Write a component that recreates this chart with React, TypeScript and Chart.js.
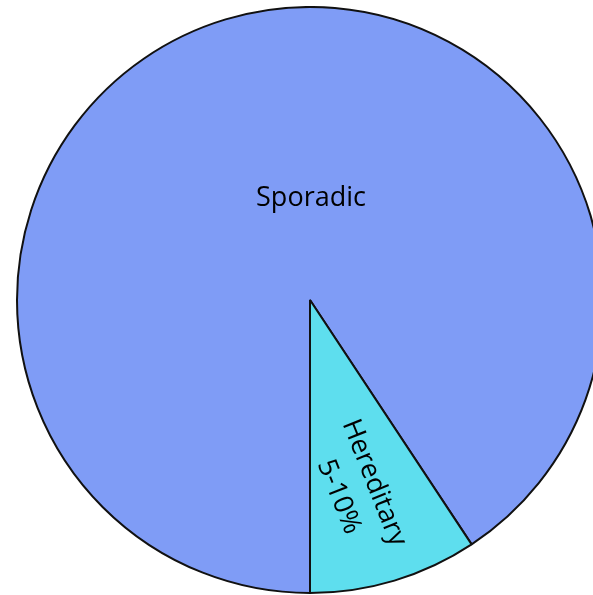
import React, { useEffect, useRef } from "react";
import { Chart, registerables } from "chart.js";

Chart.register(...registerables);

const categories = ["Sporadic", "Hereditary"];
const values = [90.7, 9.3];
const labelLines = [["Sporadic"], ["Hereditary", "5-10%"]];
const colors = ["#7f9cf6", "#5edeee"];

const labelPlugin = {
  id: "sliceLabels",
  afterDatasetsDraw(chart: any) {
    const ctx = chart.ctx;
    const meta = chart.getDatasetMeta(0);
    ctx.save();
    ctx.fillStyle = "#000";
    ctx.font = "27px 'Open Sans'";
    ctx.textAlign = "center";
    meta.data.forEach((arc: any, i: number) => {
      const { x, y, outerRadius, startAngle, endAngle } = arc.getProps(
        ["x", "y", "outerRadius", "startAngle", "endAngle"],
        true
      );
      const lines = labelLines[i];
      if (i === 0) {
        ctx.textBaseline = "alphabetic";
        ctx.fillText(lines[0], x + 1, y - outerRadius * 0.322);
      } else {
        const mid = (startAngle + endAngle) / 2;
        const ang = mid + (3 * Math.PI) / 180;
        const r = outerRadius * 0.667;
        const cx = x + Math.cos(ang) * r;
        const cy = y + Math.sin(ang) * r;
        ctx.translate(cx, cy);
        ctx.rotate(mid - (5 * Math.PI) / 180);
        ctx.textBaseline = "middle";
        const lh = 38;
        lines.forEach((t, k) => {
          ctx.fillText(t, 0, (k - (lines.length - 1) / 2) * lh);
        });
      }
    });
    ctx.restore();
  },
};

export default function App() {
  const ref = useRef<HTMLCanvasElement>(null);
  useEffect(() => {
    const chart = new Chart(ref.current!, {
      type: "pie",
      data: {
        labels: categories,
        datasets: [
          {
            data: values,
            backgroundColor: colors,
            borderColor: "#111",
            borderWidth: 2,
          },
        ],
      },
      options: {
        animation: false,
        responsive: true,
        maintainAspectRatio: false,
        rotation: 180,
        layout: { padding: 0 },
        plugins: {
          legend: { display: false },
          tooltip: { enabled: false },
        },
      },
      plugins: [labelPlugin],
    });
    return () => chart.destroy();
  }, []);
  return (
    <div
      style={{
        position: "fixed",
        left: 0,
        top: 0,
        width: "100vw",
        height: "100vh",
        overflow: "hidden",
        background: "#fff",
      }}
    >
      <div
        style={{
          position: "absolute",
          left: 15.5,
          top: 6,
          width: 588,
          height: 588,
        }}
      >
        <canvas ref={ref} />
      </div>
    </div>
  );
}
